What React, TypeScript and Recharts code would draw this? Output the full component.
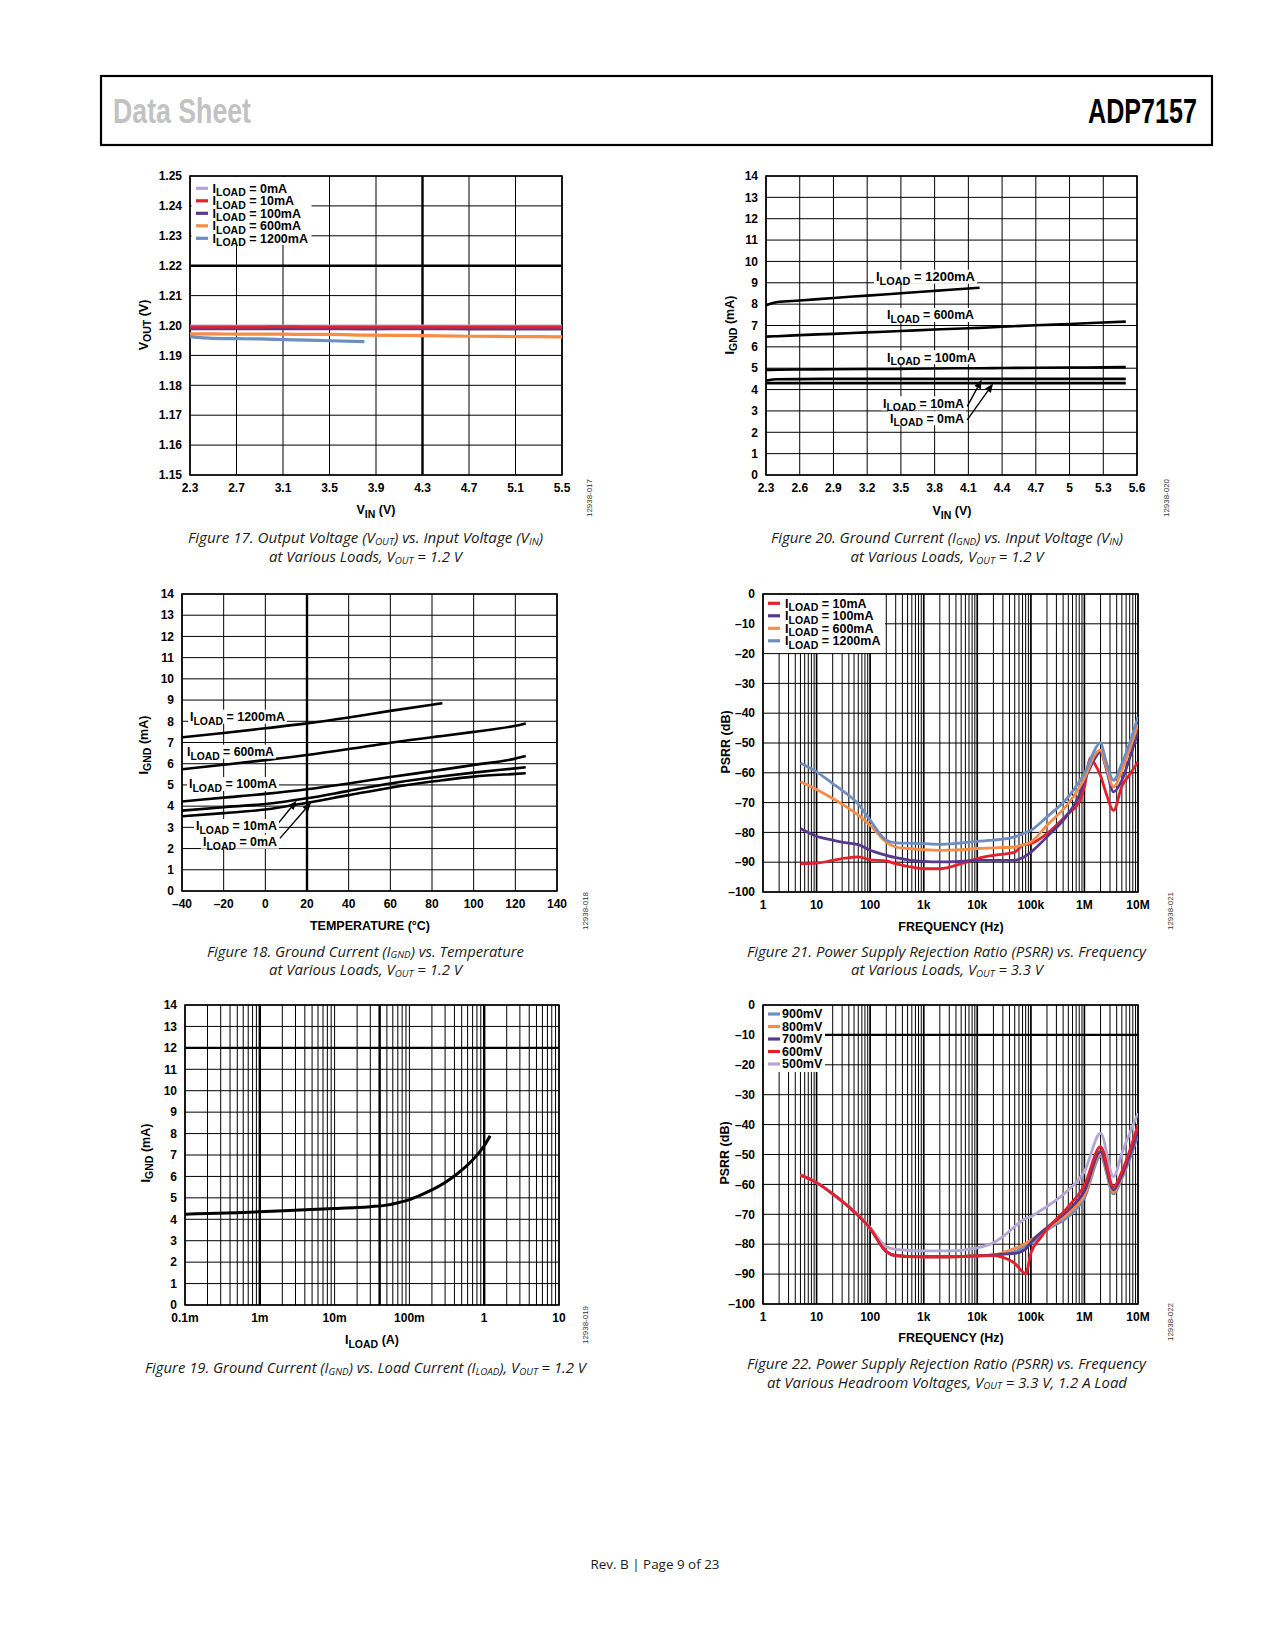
import React from 'react';
import {
  LineChart,
  Line,
  XAxis,
  YAxis,
  CartesianGrid,
  ReferenceLine,
  ReferenceArea,
} from 'recharts';

const FONT = "'Liberation Sans', Arial, Helvetica, sans-serif";
const CAPTION_FONT = "'Open Sans', 'Noto Sans', sans-serif";

const C_LAVENDER = '#b4a6d3';
const C_RED = '#e3202c';
const C_PURPLE = '#58388f';
const C_ORANGE = '#f68c45';
const C_BLUE = '#6f8dbf';

// ---- Figure 17: VOUT vs VIN ----
const F17_VIN = [2.3, 2.5, 2.7, 2.9, 3.1, 3.3, 3.5, 3.8, 4.3, 4.7, 5.1, 5.5];
const F17_0MA = [1.1998, 1.1998, 1.1998, 1.1998, 1.1998, 1.1998, 1.1998, 1.1998, 1.1998, 1.1998, 1.1998, 1.1998];
const F17_10MA = [1.1995, 1.1995, 1.1995, 1.1995, 1.1996, 1.1995, 1.1995, 1.1995, 1.1995, 1.1995, 1.1995, 1.1995];
const F17_100MA = [1.199, 1.199, 1.199, 1.199, 1.199, 1.199, 1.199, 1.1989, 1.199, 1.1989, 1.1989, 1.1989];
const F17_600MA = [1.1972, 1.1972, 1.1971, 1.1971, 1.1971, 1.197, 1.197, 1.1968, 1.1966, 1.1964, 1.1963, 1.1962];
const F17_1200MA = [1.1963, 1.1957, 1.1956, 1.1955, 1.1953, 1.1951, 1.1949, 1.1946, null, null, null, null];
const F17_XTICKS = [2.3, 2.7, 3.1, 3.5, 3.9, 4.3, 4.7, 5.1, 5.5];
const F17_YTICKS = [1.15, 1.16, 1.17, 1.18, 1.19, 1.2, 1.21, 1.22, 1.23, 1.24, 1.25];

// ---- Figure 20: IGND vs VIN ----
const F20_VIN = [2.3, 2.4, 2.6, 2.9, 3.2, 3.5, 3.8, 4.1, 4.2, 4.4, 4.7, 5.0, 5.3, 5.5];
const F20_1200MA = [7.95, 8.1, 8.17, 8.29, 8.4, 8.51, 8.62, 8.73, 8.77, null, null, null, null, null];
const F20_600MA = [6.48, 6.5, 6.55, 6.61, 6.68, 6.74, 6.81, 6.87, 6.89, 6.94, 7.01, 7.07, 7.14, 7.18];
const F20_100MA = [4.92, 4.93, 4.94, 4.95, 4.96, 4.97, 4.99, 5.0, 5.0, 5.01, 5.02, 5.03, 5.04, 5.05];
const F20_10MA = [4.42, 4.48, 4.49, 4.5, 4.5, 4.5, 4.5, 4.5, 4.5, 4.5, 4.5, 4.5, 4.5, 4.5];
const F20_0MA = [4.3, 4.3, 4.3, 4.3, 4.3, 4.3, 4.3, 4.3, 4.3, 4.3, 4.3, 4.3, 4.3, 4.3];
const F20_XTICKS = [2.3, 2.6, 2.9, 3.2, 3.5, 3.8, 4.1, 4.4, 4.7, 5.0, 5.3, 5.6];
const IGND_TICKS = [0, 1, 2, 3, 4, 5, 6, 7, 8, 9, 10, 11, 12, 13, 14];

// ---- Figure 18: IGND vs temperature ----
const F18_TEMP = [-40, -20, 0, 20, 40, 60, 80, 85, 100, 120, 125];
const F18_1200MA = [7.24, 7.45, 7.67, 7.9, 8.18, 8.49, 8.78, 8.85, null, null, null];
const F18_600MA = [5.74, 5.95, 6.17, 6.41, 6.69, 6.99, 7.25, 7.31, 7.5, 7.79, 7.9];
const F18_100MA = [4.22, 4.4, 4.58, 4.8, 5.07, 5.37, 5.65, 5.72, 5.94, 6.24, 6.36];
const F18_10MA = [3.79, 3.95, 4.1, 4.37, 4.72, 5.07, 5.35, 5.41, 5.58, 5.78, 5.83];
const F18_0MA = [3.52, 3.67, 3.84, 4.16, 4.52, 4.87, 5.16, 5.22, 5.39, 5.52, 5.55];
const F18_XTICKS = [-40, -20, 0, 20, 40, 60, 80, 100, 120, 140];

// ---- Figure 19: IGND vs ILOAD ----
const F19_ILOAD = [1e-4, 2e-4, 5e-4, 1e-3, 3e-3, 1e-2, 2e-2, 3e-2, 5e-2, 7e-2, 0.1, 0.15, 0.2, 0.3, 0.4, 0.5, 0.7, 0.85, 1.0, 1.2];
const F19_IGND = [4.24, 4.27, 4.31, 4.35, 4.42, 4.5, 4.55, 4.59, 4.66, 4.77, 4.92, 5.17, 5.37, 5.72, 6.02, 6.29, 6.77, 7.1, 7.43, 7.9];
const ILOAD_DECADES = [1e-4, 1e-3, 1e-2, 1e-1, 1, 10];
const ILOAD_LABELS = ['0.1m', '1m', '10m', '100m', '1', '10'];

// ---- Figure 21: PSRR vs frequency, loads ----
const F21_FREQ = [5, 10, 20, 30, 60, 100, 200, 300, 500, 1e3, 2e3, 5e3, 1e4, 2e4, 5e4, 7e4, 1e5, 2e5, 5e5, 8e5, 1e6, 1.3e6, 1.5e6, 2e6, 2.5e6, 3.5e6, 5e6, 7e6, 1e7];
const F21_10MA = [-90.5, -90.3, -89.4, -88.8, -88.2, -89.2, -89.6, -90.5, -91.4, -92.2, -92.2, -90.5, -88.8, -87.7, -86.6, -84.3, -83.8, -80.4, -73.7, -69.8, -64.7, -55.0, -56.5, -61.0, -66.5, -72.6, -64.5, -60.6, -56.3];
const F21_100MA = [-78.7, -81.3, -82.6, -83.3, -84.1, -86.0, -87.7, -88.5, -89.2, -89.7, -89.9, -89.7, -89.4, -89.4, -89.4, -88.5, -86.6, -81.5, -73.7, -67.5, -62.5, -58.0, -55.8, -53.0, -58.0, -66.4, -62.5, -55.0, -46.2];
const F21_600MA = [-63.0, -65.6, -68.6, -70.5, -74.2, -77.6, -83.2, -84.9, -85.4, -85.8, -86.0, -85.8, -85.4, -85.2, -84.9, -84.2, -83.2, -77.6, -70.3, -65.0, -61.9, -57.0, -54.5, -52.4, -57.4, -64.7, -59.1, -52.0, -43.7];
const F21_1200MA = [-56.7, -59.7, -63.6, -65.9, -70.5, -75.9, -82.6, -83.5, -83.6, -83.8, -84.0, -83.5, -83.0, -82.6, -81.5, -80.5, -79.3, -74.8, -68.1, -63.0, -60.2, -55.5, -52.9, -49.9, -55.8, -62.5, -56.9, -50.0, -41.2];

// ---- Figure 22: PSRR vs frequency, headroom ----
const F22_FREQ = [5, 10, 20, 50, 100, 200, 300, 1e3, 3e3, 1e4, 2e4, 3e4, 5e4, 7e4, 8e4, 1e5, 1.5e5, 2e5, 5e5, 1e6, 2e6, 3.5e6, 5e6, 1e7];
const F22_900MV = [-56.9, -59.4, -63.2, -69.1, -74.7, -82.5, -83.8, -84.2, -84.2, -83.9, -83.6, -83.2, -82.5, -81.2, -80.6, -79.7, -77.3, -75.3, -70.8, -64.6, -50.7, -63.2, -58.0, -43.5];
const F22_800MV = [-56.9, -59.4, -63.2, -69.1, -74.7, -82.5, -83.8, -84.2, -84.2, -83.9, -83.6, -82.8, -81.4, -80.3, -79.7, -78.6, -76.5, -74.7, -69.7, -63.6, -49.8, -62.6, -57.4, -41.5];
const F22_700MV = [-56.9, -59.4, -63.2, -69.1, -74.7, -82.5, -83.8, -84.2, -84.2, -83.9, -83.6, -83.3, -83.1, -82.3, -81.6, -79.4, -76.3, -74.4, -68.6, -62.2, -49.0, -61.8, -56.9, -42.2];
const F22_600MV = [-56.9, -59.4, -63.2, -69.1, -74.7, -82.5, -83.8, -84.2, -84.2, -83.9, -83.8, -84.4, -86.4, -89.2, -90.0, -83.0, -78.0, -75.0, -67.4, -60.3, -47.4, -60.8, -55.7, -40.0];
const F22_500MV = [-56.9, -59.4, -63.2, -69.0, -74.4, -80.8, -81.7, -82.2, -82.2, -81.2, -79.5, -77.5, -74.1, -72.0, -71.4, -70.8, -68.8, -67.4, -61.9, -55.7, -42.9, -57.4, -49.6, -36.2];

const FREQ_DECADES = [1, 10, 100, 1e3, 1e4, 1e5, 1e6, 1e7];
const FREQ_LABELS = ['1', '10', '100', '1k', '10k', '100k', '1M', '10M'];
const PSRR_TICKS = [-100, -90, -80, -70, -60, -50, -40, -30, -20, -10, 0];
const MINOR = [2, 3, 4, 5, 6, 7, 8, 9];

const logTicks = (decades: number[]) =>
  decades.flatMap((d, i) => (i < decades.length - 1 ? [d, ...MINOR.map((m) => m * d)] : [d]));

const decadeLabel = (decades: number[], labels: string[]) => (v: number) => {
  const i = decades.findIndex((d) => Math.abs(v - d) / d < 1e-6);
  return i >= 0 ? labels[i] : '';
};

const dash = (v: number) => (v < 0 ? '\u2013' + Math.abs(v) : String(v));

const f17Data = F17_VIN.map((x, i) => ({ x, a: F17_0MA[i], b: F17_10MA[i], c: F17_100MA[i], d: F17_600MA[i], e: F17_1200MA[i] }));
const f20Data = F20_VIN.map((x, i) => ({ x, a: F20_0MA[i], b: F20_10MA[i], c: F20_100MA[i], d: F20_600MA[i], e: F20_1200MA[i] }));
const f18Data = F18_TEMP.map((x, i) => ({ x, a: F18_0MA[i], b: F18_10MA[i], c: F18_100MA[i], d: F18_600MA[i], e: F18_1200MA[i] }));
const f19Data = F19_ILOAD.map((x, i) => ({ x, y: F19_IGND[i] }));
const f21Data = F21_FREQ.map((x, i) => ({ x, r: F21_10MA[i], p: F21_100MA[i], o: F21_600MA[i], b: F21_1200MA[i] }));
const f22Data = F22_FREQ.map((x, i) => ({ x, v9: F22_900MV[i], v8: F22_800MV[i], v7: F22_700MV[i], v6: F22_600MV[i], v5: F22_500MV[i] }));

const TICK = { fill: '#000', fontSize: 12, fontWeight: 700, fontFamily: FONT };
const ML = 70;
const MT = 10;
const MR = 24;
const MB = 40;

type PlotProps = {
  left: number;
  top: number;
  width: number;
  height: number;
  data: any[];
  xDomain: [number, number];
  xTicks: number[];
  xLog?: boolean;
  xFormat: (v: number) => string;
  yDomain: [number, number];
  yTicks: number[];
  yFormat: (v: number) => string;
  children?: React.ReactNode;
};

function Plot(p: PlotProps) {
  return (
    <div style={{ position: 'absolute', left: p.left - ML, top: p.top - MT }}>
      <LineChart
        width={p.width + ML + MR}
        height={p.height + MT + MB}
        data={p.data}
        margin={{ top: MT, right: MR, bottom: 0, left: 0 }}
      >
        <CartesianGrid stroke="#000" strokeWidth={1} />
        <XAxis
          dataKey="x"
          type="number"
          scale={p.xLog ? 'log' : 'linear'}
          domain={p.xDomain}
          ticks={p.xTicks}
          interval={0}
          allowDataOverflow
          tickFormatter={p.xFormat}
          tick={TICK}
          tickLine={false}
          axisLine={false}
          height={MB}
        />
        <YAxis
          type="number"
          domain={p.yDomain}
          ticks={p.yTicks}
          interval={0}
          allowDataOverflow
          tickFormatter={p.yFormat}
          tick={TICK}
          tickLine={false}
          axisLine={false}
          width={ML}
        />
        {p.children}
        <ReferenceArea
          x1={p.xDomain[0]}
          x2={p.xDomain[1]}
          y1={p.yDomain[0]}
          y2={p.yDomain[1]}
          fill="none"
          fillOpacity={0}
          stroke="#000"
          strokeWidth={1.6}
        />
      </LineChart>
    </div>
  );
}

const ArrowShape = (props: any) => {
  const { x1, y1, x2, y2 } = props;
  const a = Math.atan2(y2 - y1, x2 - x1);
  const len = 9;
  const w = 3.6;
  const bx = x2 - len * Math.cos(a);
  const by = y2 - len * Math.sin(a);
  const p1 = `${bx + w * Math.sin(a)},${by - w * Math.cos(a)}`;
  const p2 = `${bx - w * Math.sin(a)},${by + w * Math.cos(a)}`;
  return (
    <g>
      <line x1={x1} y1={y1} x2={bx} y2={by} stroke="#000" strokeWidth={1.4} />
      <polygon points={`${x2},${y2} ${p1} ${p2}`} fill="#000" />
    </g>
  );
};

const thick = (key: string, props: any) => (
  <ReferenceLine key={key} {...props} stroke="#000" strokeWidth={2.4} />
);

const curve = (key: string, color: string, width: number, type: any = 'monotone') => (
  <Line
    key={key}
    dataKey={key}
    type={type}
    stroke={color}
    strokeWidth={width}
    dot={false}
    activeDot={false}
    isAnimationActive={false}
    connectNulls={false}
  />
);

// ---- text helpers (overlay) ----
function parseRich(s: string): [string, boolean][] {
  const out: [string, boolean][] = [];
  const re = /_\{([^}]*)\}/g;
  let last = 0;
  let m: RegExpExecArray | null;
  while ((m = re.exec(s))) {
    if (m.index > last) out.push([s.slice(last, m.index), false]);
    out.push([m[1], true]);
    last = re.lastIndex;
  }
  if (last < s.length) out.push([s.slice(last), false]);
  return out;
}

type RichProps = {
  x: number;
  y: number;
  text: string;
  size?: number;
  weight?: number;
  anchor?: 'start' | 'middle' | 'end';
  len?: number;
  family?: string;
  italic?: boolean;
  fill?: string;
  subScale?: number;
  subDrop?: number;
  rotate?: boolean;
};

function Rich({
  x,
  y,
  text,
  size = 12.5,
  weight = 700,
  anchor = 'start',
  len,
  family = FONT,
  italic = false,
  fill = '#000',
  subScale = 0.84,
  subDrop = 0.3,
  rotate = false,
}: RichProps) {
  let shift = 0;
  const spans = parseRich(text).map(([t, sub], i) => {
    const target = sub ? size * subDrop : 0;
    const dy = target - shift;
    shift = target;
    return (
      <tspan key={i} dy={dy} fontSize={sub ? size * subScale : size}>
        {t}
      </tspan>
    );
  });
  const common = {
    fontFamily: family,
    fontWeight: weight,
    fontStyle: italic ? 'italic' : 'normal',
    fontSize: size,
    fill,
    textAnchor: anchor,
    style: { whiteSpace: 'pre' as const },
    ...(len ? { textLength: len, lengthAdjust: 'spacingAndGlyphs' } : {}),
  };
  if (rotate) {
    return (
      <g transform={`translate(${x},${y}) rotate(-90)`}>
        <text x={0} y={size * 0.36} {...(common as any)}>
          {spans}
        </text>
      </g>
    );
  }
  return (
    <text x={x} y={y} {...(common as any)}>
      {spans}
    </text>
  );
}

const Caption = ({ x, y, text, len }: { x: number; y: number; text: string; len: number }) => (
  <Rich x={x} y={y} text={text} size={14} weight={400} italic anchor="middle" len={len} family={CAPTION_FONT} fill="#1a1a1a" subScale={0.66} subDrop={0.12} />
);

const FigId = ({ x, y, text }: { x: number; y: number; text: string }) => (
  <Rich x={x} y={y} text={text} size={7.5} weight={400} anchor="middle" rotate len={38} fill="#333" />
);

const AxisTitle = (p: { x: number; y: number; text: string; rotate?: boolean }) => (
  <Rich x={p.x} y={p.y} text={p.text} anchor="middle" size={12.5} rotate={p.rotate} />
);

const LegendBox = ({ x, y, w, h, rows }: { x: number; y: number; w: number; h: number; rows: { label: string; color: string; sx: number; tx: number; cy: number }[] }) => (
  <g>
    <rect x={x} y={y} width={w} height={h} fill="#fff" />
    {rows.map((r, i) => (
      <g key={i}>
        <line x1={r.sx} x2={r.sx + 12} y1={r.cy} y2={r.cy} stroke={r.color} strokeWidth={3.2} />
        <Rich x={r.tx} y={r.cy + 4.4} text={r.label} />
      </g>
    ))}
  </g>
);

const Note = ({ x, cy, text, len }: { x: number; cy: number; text: string; len: number }) => (
  <g>
    <rect x={x - 2} y={cy - 7} width={len + 4} height={14} fill="#fff" />
    <Rich x={x} y={cy + 4.2} text={text} len={len} />
  </g>
);

export default function App() {
  const f21Ticks = logTicks(FREQ_DECADES);
  const f19Ticks = logTicks(ILOAD_DECADES);
  const freqFmt = decadeLabel(FREQ_DECADES, FREQ_LABELS);
  const iloadFmt = decadeLabel(ILOAD_DECADES, ILOAD_LABELS);

  return (
    <div style={{ position: 'absolute', left: 0, top: 0, width: 1275, height: 1650, background: '#fff', overflow: 'hidden' }}>
      {/* Figure 17 */}
      <Plot left={190} top={176} width={372} height={299} data={f17Data}
        xDomain={[2.3, 5.5]} xTicks={F17_XTICKS} xFormat={(v) => v.toFixed(1)}
        yDomain={[1.15, 1.25]} yTicks={F17_YTICKS} yFormat={(v) => v.toFixed(2)}>
        {[
          thick('t1', { y: 1.22 }),
          thick('t2', { x: 4.3 }),
          curve('a', C_LAVENDER, 3.4),
          curve('d', C_ORANGE, 3.2),
          curve('e', C_BLUE, 3.2),
          curve('c', C_PURPLE, 3.4),
          curve('b', C_RED, 3),
        ]}
      </Plot>

      {/* Figure 20 */}
      <Plot left={766} top={176} width={371} height={299} data={f20Data}
        xDomain={[2.3, 5.6]} xTicks={F20_XTICKS} xFormat={(v) => (Math.abs(v - 5) < 1e-6 ? '5' : v.toFixed(1))}
        yDomain={[0, 14]} yTicks={IGND_TICKS} yFormat={(v) => String(v)}>
        {[
          curve('e', '#000', 2.6),
          curve('d', '#000', 2.6),
          curve('c', '#000', 2.6),
          curve('b', '#000', 2.6),
          curve('a', '#000', 2.6),
          <ReferenceLine key="ar1" segment={[{ x: 4.09, y: 3.21 }, { x: 4.22, y: 4.47 }]} shape={ArrowShape} />,
          <ReferenceLine key="ar2" segment={[{ x: 4.09, y: 2.58 }, { x: 4.32, y: 4.28 }]} shape={ArrowShape} />,
        ]}
      </Plot>

      {/* Figure 18 */}
      <Plot left={182} top={594} width={375} height={297} data={f18Data}
        xDomain={[-40, 140]} xTicks={F18_XTICKS} xFormat={dash}
        yDomain={[0, 14]} yTicks={IGND_TICKS} yFormat={(v) => String(v)}>
        {[
          thick('t1', { x: 20 }),
          curve('e', '#000', 2.6),
          curve('d', '#000', 2.6),
          curve('c', '#000', 2.6),
          curve('b', '#000', 2.6),
          curve('a', '#000', 2.6),
          <ReferenceLine key="ar1" segment={[{ x: 6.2, y: 3.19 }, { x: 15, y: 4.25 }]} shape={ArrowShape} />,
          <ReferenceLine key="ar2" segment={[{ x: 7, y: 2.48 }, { x: 22, y: 4.17 }]} shape={ArrowShape} />,
        ]}
      </Plot>

      {/* Figure 21 */}
      <Plot left={763} top={594} width={375} height={298} data={f21Data}
        xDomain={[1, 1e7]} xTicks={f21Ticks} xLog xFormat={freqFmt}
        yDomain={[-100, 0]} yTicks={PSRR_TICKS} yFormat={dash}>
        {[
          ...FREQ_DECADES.slice(1, -1).map((d) => (
            <ReferenceLine key={'d' + d} x={d} stroke="#000" strokeWidth={1.6} />
          )),
          curve('r', C_RED, 2.8),
          curve('p', C_PURPLE, 2.8),
          curve('o', C_ORANGE, 2.8),
          curve('b', C_BLUE, 2.8),
        ]}
      </Plot>

      {/* Figure 19 */}
      <Plot left={185} top={1005} width={374} height={300} data={f19Data}
        xDomain={[1e-4, 10]} xTicks={f19Ticks} xLog xFormat={iloadFmt}
        yDomain={[0, 14]} yTicks={IGND_TICKS} yFormat={(v) => String(v)}>
        {[
          thick('t1', { y: 12 }),
          thick('t2', { x: 1e-3 }),
          thick('t3', { x: 0.04 }),
          thick('t4', { x: 1 }),
          curve('y', '#000', 3),
        ]}
      </Plot>

      {/* Figure 22 */}
      <Plot left={763} top={1005} width={375} height={299} data={f22Data}
        xDomain={[1, 1e7]} xTicks={f21Ticks} xLog xFormat={freqFmt}
        yDomain={[-100, 0]} yTicks={PSRR_TICKS} yFormat={dash}>
        {[
          thick('t1', { y: -10 }),
          ...FREQ_DECADES.slice(1, -1).map((d) => (
            <ReferenceLine key={'d' + d} x={d} stroke="#000" strokeWidth={1.6} />
          )),
          curve('v9', C_BLUE, 2.8),
          curve('v8', C_ORANGE, 2.8),
          curve('v7', C_PURPLE, 2.8),
          curve('v5', C_LAVENDER, 2.8),
          curve('v6', C_RED, 2.8),
        ]}
      </Plot>

      {/* overlay: page frame, titles, legends, captions */}
      <svg width={1275} height={1650} style={{ position: 'absolute', left: 0, top: 0, pointerEvents: 'none' }}>
        <rect x={101} y={76} width={1111} height={69} fill="none" stroke="#000" strokeWidth={2.2} />
        <text x={113} y={123} fontFamily={FONT} fontWeight={700} fontSize={35} fill="#c2c2c2" textLength={138} lengthAdjust="spacingAndGlyphs">
          Data Sheet
        </text>
        <text x={1088} y={123} fontFamily={FONT} fontWeight={700} fontSize={35} fill="#000" textLength={109} lengthAdjust="spacingAndGlyphs">
          ADP7157
        </text>

        {/* Fig 17 */}
        <LegendBox x={191.5} y={177} w={120} h={68} rows={[
          { label: 'I_{LOAD} = 0mA', color: C_LAVENDER, sx: 196, tx: 212.5, cy: 188.3 },
          { label: 'I_{LOAD} = 10mA', color: C_RED, sx: 196, tx: 212.5, cy: 200.8 },
          { label: 'I_{LOAD} = 100mA', color: C_PURPLE, sx: 196, tx: 212.5, cy: 213.3 },
          { label: 'I_{LOAD} = 600mA', color: C_ORANGE, sx: 196, tx: 212.5, cy: 225.8 },
          { label: 'I_{LOAD} = 1200mA', color: C_BLUE, sx: 196, tx: 212.5, cy: 238.3 },
        ]} />
        <AxisTitle x={376} y={514} text="V_{IN} (V)" />
        <AxisTitle x={143} y={325} text="V_{OUT} (V)" rotate />
        <FigId x={589} y={498} text="12938-017" />
        <Caption x={365.5} y={543} len={355} text="Figure 17. Output Voltage (V_{OUT}) vs. Input Voltage (V_{IN})" />
        <Caption x={365.5} y={562} len={193} text="at Various Loads, V_{OUT} = 1.2 V" />

        {/* Fig 20 */}
        <Note x={876} cy={276.7} len={99} text="I_{LOAD} = 1200mA" />
        <Note x={887} cy={315} len={87} text="I_{LOAD} = 600mA" />
        <Note x={887} cy={357.3} len={89} text="I_{LOAD} = 100mA" />
        <Note x={883} cy={403.3} len={81} text="I_{LOAD} = 10mA" />
        <Note x={890} cy={418.3} len={74} text="I_{LOAD} = 0mA" />
        <AxisTitle x={952} y={515} text="V_{IN} (V)" />
        <AxisTitle x={729} y={325} text="I_{GND} (mA)" rotate />
        <FigId x={1166} y={498} text="12938-020" />
        <Caption x={947} y={543} len={352} text="Figure 20. Ground Current (I_{GND}) vs. Input Voltage (V_{IN})" />
        <Caption x={947} y={562} len={193} text="at Various Loads, V_{OUT} = 1.2 V" />

        {/* Fig 18 */}
        <Note x={190} cy={716.7} len={95} text="I_{LOAD} = 1200mA" />
        <Note x={187} cy={751.7} len={87} text="I_{LOAD} = 600mA" />
        <Note x={189} cy={784} len={88} text="I_{LOAD} = 100mA" />
        <Note x={196} cy={826} len={81} text="I_{LOAD} = 10mA" />
        <Note x={203} cy={841.7} len={74} text="I_{LOAD} = 0mA" />
        <AxisTitle x={370} y={929.5} text="TEMPERATURE (°C)" />
        <AxisTitle x={143} y={745} text="I_{GND} (mA)" rotate />
        <FigId x={585} y={911} text="12938-018" />
        <Caption x={365.5} y={956.5} len={317} text="Figure 18. Ground Current (I_{GND}) vs. Temperature" />
        <Caption x={365.5} y={975} len={193} text="at Various Loads, V_{OUT} = 1.2 V" />

        {/* Fig 21 */}
        <LegendBox x={764} y={595} w={121} h={58} rows={[
          { label: 'I_{LOAD} = 10mA', color: C_RED, sx: 768, tx: 785, cy: 603.3 },
          { label: 'I_{LOAD} = 100mA', color: C_PURPLE, sx: 768, tx: 785, cy: 615.8 },
          { label: 'I_{LOAD} = 600mA', color: C_ORANGE, sx: 768, tx: 785, cy: 628.3 },
          { label: 'I_{LOAD} = 1200mA', color: C_BLUE, sx: 768, tx: 785, cy: 640.8 },
        ]} />
        <AxisTitle x={951} y={930.5} text="FREQUENCY (Hz)" />
        <AxisTitle x={725} y={742} text="PSRR (dB)" rotate />
        <FigId x={1170} y={911} text="12938-021" />
        <Caption x={946.5} y={956.5} len={399} text="Figure 21. Power Supply Rejection Ratio (PSRR) vs. Frequency" />
        <Caption x={947} y={975} len={192} text="at Various Loads, V_{OUT} = 3.3 V" />

        {/* Fig 19 */}
        <AxisTitle x={372} y={1344} text="I_{LOAD} (A)" />
        <AxisTitle x={145} y={1153} text="I_{GND} (mA)" rotate />
        <FigId x={585} y={1325} text="12938-019" />
        <Caption x={365.5} y={1373} len={441} text="Figure 19. Ground Current (I_{GND}) vs. Load Current (I_{LOAD}), V_{OUT} = 1.2 V" />

        {/* Fig 22 */}
        <LegendBox x={764} y={1006} w={61} h={66} rows={[
          { label: '900mV', color: C_BLUE, sx: 768, tx: 782, cy: 1014 },
          { label: '800mV', color: C_ORANGE, sx: 768, tx: 782, cy: 1026.5 },
          { label: '700mV', color: C_PURPLE, sx: 768, tx: 782, cy: 1039 },
          { label: '600mV', color: C_RED, sx: 768, tx: 782, cy: 1051.5 },
          { label: '500mV', color: C_LAVENDER, sx: 768, tx: 782, cy: 1064 },
        ]} />
        <AxisTitle x={951} y={1341.5} text="FREQUENCY (Hz)" />
        <AxisTitle x={724} y={1153} text="PSRR (dB)" rotate />
        <FigId x={1170} y={1322} text="12938-022" />
        <Caption x={946.5} y={1369} len={399} text="Figure 22. Power Supply Rejection Ratio (PSRR) vs. Frequency" />
        <Caption x={947} y={1387.5} len={360} text="at Various Headroom Voltages, V_{OUT} = 3.3 V, 1.2 A Load" />

        <text x={655} y={1568.5} textAnchor="middle" fontFamily={CAPTION_FONT} fontSize={13.5} fill="#1a1a1a" textLength={129} lengthAdjust="spacingAndGlyphs">
          Rev. B | Page 9 of 23
        </text>
      </svg>
    </div>
  );
}
